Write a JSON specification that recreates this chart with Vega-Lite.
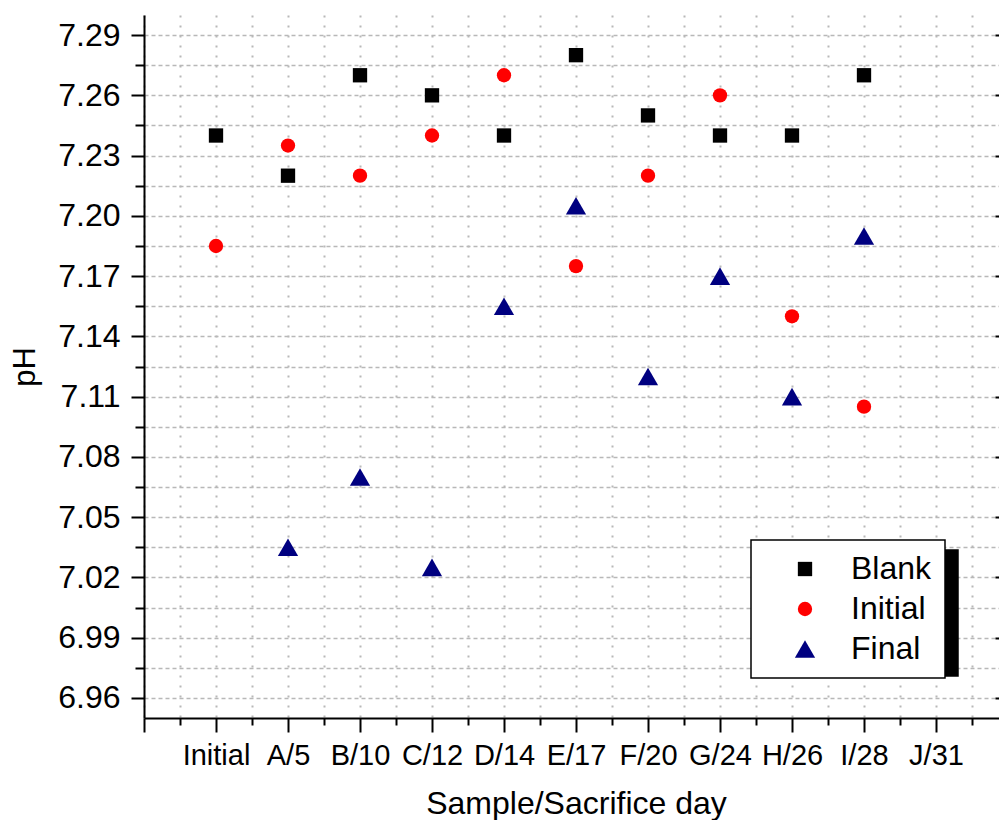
{
  "$schema": "https://vega.github.io/schema/vega-lite/v6.json",
  "autosize": {"type": "none"},
  "padding": {"left": 144, "top": 15, "right": 0, "bottom": 102},
  "width": 855,
  "height": 703,
  "background": "white",
  "config": {
    "view": {"stroke": null},
    "font": "Liberation Sans",
    "axis": {"labelFont": "Liberation Sans", "titleFont": "Liberation Sans", "labelColor": "black", "titleColor": "black", "titleFontWeight": "normal", "domainColor": "black", "tickColor": "black", "domainWidth": 2, "tickWidth": 2, "labelOverlap": false, "labelFlush": false, "labelBound": false},
    "legend": {"labelFont": "Liberation Sans", "labelFontSize": 32, "labelColor": "black", "padding": 13, "rowPadding": 8, "symbolOffset": 25, "labelOffset": 30, "strokeColor": "black", "strokeWidth": 1.5, "fillColor": "white", "orient": "none", "title": null, "symbolSize": 205}
  },
  "data": {"values": [
    {"sample": "Initial", "idx": 0, "series": "Blank", "pH": 7.24},
    {"sample": "A/5", "idx": 1, "series": "Blank", "pH": 7.22},
    {"sample": "B/10", "idx": 2, "series": "Blank", "pH": 7.27},
    {"sample": "C/12", "idx": 3, "series": "Blank", "pH": 7.26},
    {"sample": "D/14", "idx": 4, "series": "Blank", "pH": 7.24},
    {"sample": "E/17", "idx": 5, "series": "Blank", "pH": 7.28},
    {"sample": "F/20", "idx": 6, "series": "Blank", "pH": 7.25},
    {"sample": "G/24", "idx": 7, "series": "Blank", "pH": 7.24},
    {"sample": "H/26", "idx": 8, "series": "Blank", "pH": 7.24},
    {"sample": "I/28", "idx": 9, "series": "Blank", "pH": 7.27},
    {"sample": "Initial", "idx": 0, "series": "Initial", "pH": 7.185},
    {"sample": "A/5", "idx": 1, "series": "Initial", "pH": 7.235},
    {"sample": "B/10", "idx": 2, "series": "Initial", "pH": 7.22},
    {"sample": "C/12", "idx": 3, "series": "Initial", "pH": 7.24},
    {"sample": "D/14", "idx": 4, "series": "Initial", "pH": 7.27},
    {"sample": "E/17", "idx": 5, "series": "Initial", "pH": 7.175},
    {"sample": "F/20", "idx": 6, "series": "Initial", "pH": 7.22},
    {"sample": "G/24", "idx": 7, "series": "Initial", "pH": 7.26},
    {"sample": "H/26", "idx": 8, "series": "Initial", "pH": 7.15},
    {"sample": "I/28", "idx": 9, "series": "Initial", "pH": 7.105},
    {"sample": "A/5", "idx": 1, "series": "Final", "pH": 7.035},
    {"sample": "B/10", "idx": 2, "series": "Final", "pH": 7.07},
    {"sample": "C/12", "idx": 3, "series": "Final", "pH": 7.025},
    {"sample": "D/14", "idx": 4, "series": "Final", "pH": 7.155},
    {"sample": "E/17", "idx": 5, "series": "Final", "pH": 7.205},
    {"sample": "F/20", "idx": 6, "series": "Final", "pH": 7.12},
    {"sample": "G/24", "idx": 7, "series": "Final", "pH": 7.17},
    {"sample": "H/26", "idx": 8, "series": "Final", "pH": 7.11},
    {"sample": "I/28", "idx": 9, "series": "Final", "pH": 7.19}
  ]},
  "resolve": {"axis": {"x": "independent", "y": "independent"}},
  "layer": [
    {
      "mark": {"type": "point", "filled": true, "opacity": 1, "size": 205},
      "encoding": {
        "x": {"field": "idx", "type": "quantitative",
          "scale": {"domain": [-1, 10.875], "nice": false, "zero": false},
          "axis": {"orient": "bottom", "title": "Sample/Sacrifice day", "titleFontSize": 32, "titlePadding": 18, "titleX": 432,
            "values": [-1, -0.5, 0, 0.5, 1, 1.5, 2, 2.5, 3, 3.5, 4, 4.5, 5, 5.5, 6, 6.5, 7, 7.5, 8, 8.5, 9, 9.5, 10, 10.5],
            "labelExpr": "datum.value >= 0 && datum.value == floor(datum.value) ? ['Initial','A/5','B/10','C/12','D/14','E/17','F/20','G/24','H/26','I/28','J/31'][datum.value] : ''",
            "labelFontSize": 29, "labelPadding": 9,
            "tickSize": {"condition": {"test": "datum.value == floor(datum.value)", "value": 14}, "value": 7},
            "grid": true, "gridColor": "#b8b8b8", "gridWidth": 2, "gridDash": [2, 8]}},
        "y": {"field": "pH", "type": "quantitative",
          "scale": {"domain": [6.95, 7.30], "nice": false, "zero": false},
          "axis": {"orient": "left", "title": "pH", "titleFontSize": 31, "titlePadding": 16,
            "values": [6.96, 6.975, 6.99, 7.005, 7.02, 7.035, 7.05, 7.065, 7.08, 7.095, 7.11, 7.125, 7.14, 7.155, 7.17, 7.185, 7.2, 7.215, 7.23, 7.245, 7.26, 7.275, 7.29],
            "labelExpr": "round((datum.value - 6.96) / 0.015) % 2 == 0 ? format(datum.value, '.2f') : ''",
            "labelFontSize": 32, "labelPadding": 11,
            "tickSize": {"condition": {"test": "round((datum.value - 6.96) / 0.015) % 2 == 0", "value": 13}, "value": 9},
            "grid": true, "gridColor": "#b8b8b8", "gridWidth": 1.5, "gridDash": [4, 3]}},
        "color": {"field": "series", "type": "nominal",
          "scale": {"domain": ["Blank", "Initial", "Final"], "range": ["#000000", "#ff0000", "#000080"]},
          "legend": {"legendX": 607, "legendY": 525, "zindex": 2}},
        "shape": {"field": "series", "type": "nominal",
          "scale": {"domain": ["Blank", "Initial", "Final"], "range": ["square", "circle", "M0,-1.225L1.414,1.225L-1.414,1.225Z"]},
          "legend": {"legendX": 607, "legendY": 525, "zindex": 2}}
      }
    },
    {
      "mark": {"type": "point", "filled": true, "opacity": 0},
      "encoding": {
        "x": {"field": "idx", "type": "quantitative", "axis": null},
        "y": {"field": "pH", "type": "quantitative",
          "axis": {"orient": "right", "title": null, "labels": false, "domain": false, "grid": false,
            "values": [6.96, 6.99, 7.02, 7.05, 7.08, 7.11, 7.14, 7.17, 7.2, 7.23, 7.26, 7.29],
            "tickSize": -4}},
        "size": {"field": "series", "type": "nominal",
          "scale": {"domain": ["Final", "Initial", "Blank"], "range": [205, 205]},
          "legend": {"legendX": 617, "legendY": 535, "zindex": 1, "fillColor": "black", "strokeColor": "black", "labelColor": "black", "symbolOpacity": 0,
            "padding": 0, "symbolOffset": 0, "labelOffset": 181, "rowPadding": 39, "labelFontSize": 1, "labelExpr": "''"}}
      }
    }
  ]
}
